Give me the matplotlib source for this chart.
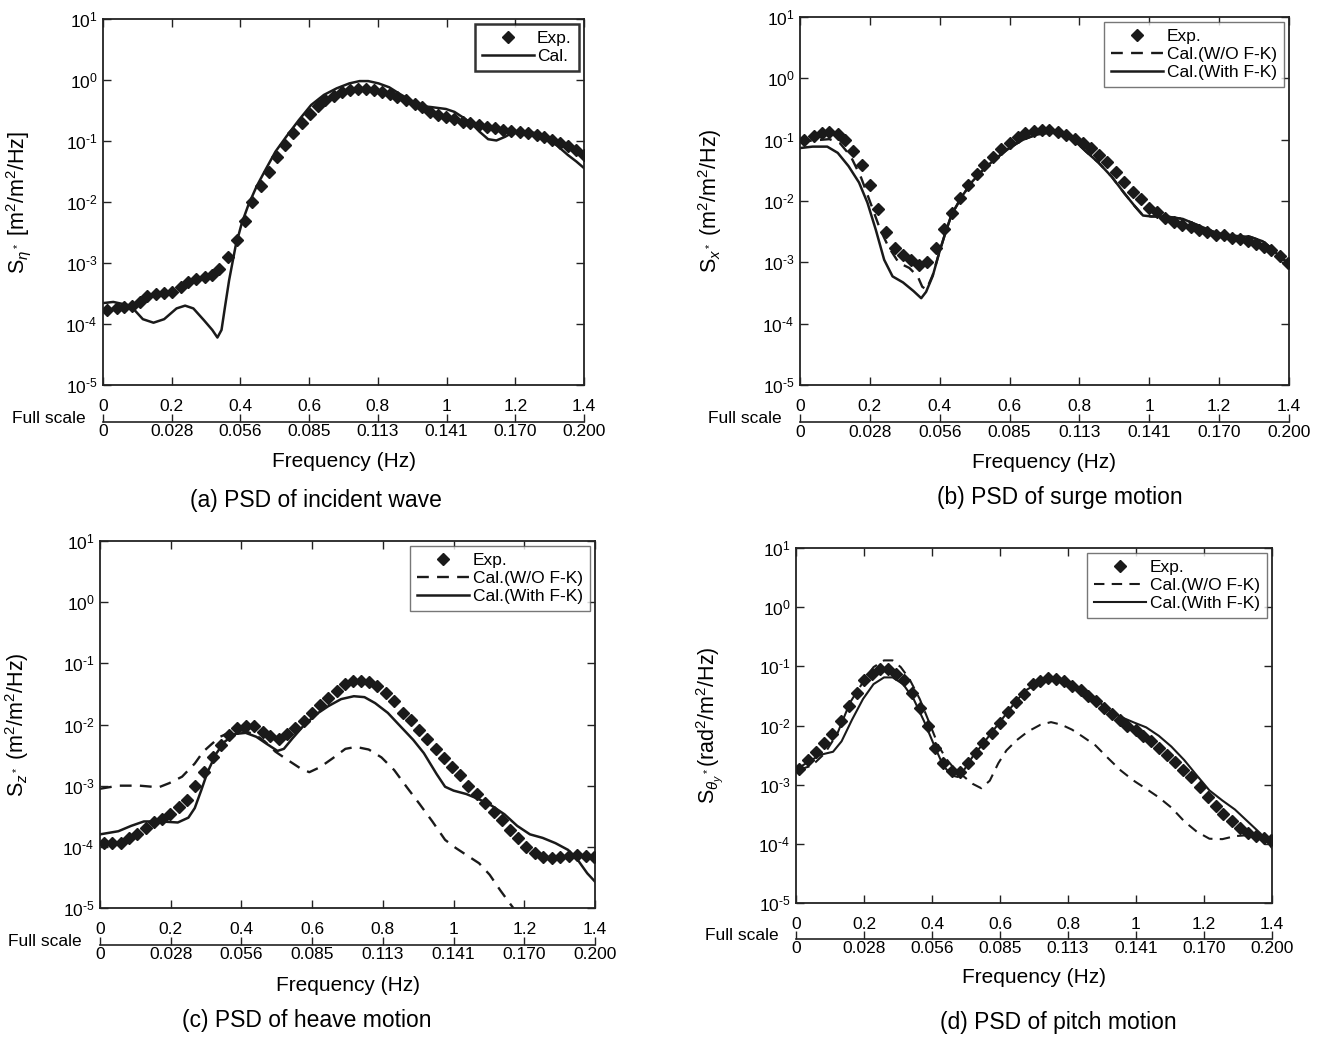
import matplotlib
matplotlib.use("Agg")
import matplotlib.pyplot as plt
import numpy as np

plt.rcParams['font.family'] = ['Liberation Sans', 'DejaVu Sans']
plt.rcParams['mathtext.fontset'] = 'custom'
plt.rcParams['mathtext.rm'] = 'Liberation Sans'
plt.rcParams['mathtext.it'] = 'Liberation Sans:italic'
plt.rcParams['mathtext.sf'] = 'Liberation Sans'

# ---------------- data ----------------
x_ticks = [0, 0.2, 0.4, 0.6, 0.8, 1.0, 1.2, 1.4]
x_ticklabels = ['0', '0.2', '0.4', '0.6', '0.8', '1', '1.2', '1.4']
full_scale_labels = ['0', '0.028', '0.056', '0.085', '0.113', '0.141', '0.170', '0.200']
y_ticks = [1e-5, 1e-4, 1e-3, 1e-2, 1e-1, 1e0, 1e1]
y_exponents = ['-5', '-4', '-3', '-2', '-1', '0', '1']

# (a) incident wave
a_exp_f = [0.012, 0.040, 0.061, 0.083, 0.108, 0.129, 0.153, 0.178, 0.202, 0.227, 0.247, 0.272,
           0.296, 0.318, 0.339, 0.365, 0.390, 0.413, 0.435, 0.459, 0.484, 0.506, 0.529, 0.554,
           0.578, 0.603, 0.625, 0.647, 0.671, 0.695, 0.719, 0.741, 0.766, 0.790, 0.812, 0.835,
           0.857, 0.882, 0.907, 0.928, 0.952, 0.976, 0.998, 1.023, 1.047, 1.069, 1.093, 1.117,
           1.142, 1.164, 1.188, 1.213, 1.237, 1.262, 1.284, 1.307, 1.329, 1.353, 1.376, 1.400]
a_exp_s = [1.7e-4, 1.8e-4, 1.9e-4, 2.0e-4, 2.3e-4, 2.9e-4, 3.1e-4, 3.2e-4, 3.3e-4, 4.0e-4, 4.8e-4, 5.5e-4,
           5.9e-4, 6.3e-4, 8.1e-4, 1.25e-3, 2.4e-3, 4.9e-3, 9.9e-3, 1.8e-2, 3.1e-2, 5.5e-2, 8.5e-2, 0.134,
           0.195, 0.28, 0.375, 0.47, 0.55, 0.64, 0.69, 0.70, 0.70, 0.69, 0.64, 0.59,
           0.53, 0.47, 0.41, 0.36, 0.30, 0.27, 0.244, 0.226, 0.207, 0.195, 0.183, 0.172,
           0.162, 0.152, 0.146, 0.139, 0.134, 0.126, 0.115, 0.105, 0.093, 0.082, 0.071, 0.059]
a_cal_f = [0.0, 0.030, 0.080, 0.116, 0.147, 0.178, 0.214, 0.239, 0.263, 0.294, 0.318, 0.333,
           0.345, 0.355, 0.367, 0.386, 0.404, 0.423, 0.447, 0.472, 0.502, 0.533, 0.570, 0.606,
           0.643, 0.680, 0.717, 0.747, 0.772, 0.802, 0.833, 0.864, 0.894, 0.925, 0.955, 0.998,
           1.023, 1.047, 1.072, 1.096, 1.121, 1.145, 1.170, 1.194, 1.231, 1.262, 1.292, 1.323,
           1.353, 1.378, 1.400]
a_cal_s = [2.2e-4, 2.3e-4, 2.0e-4, 1.2e-4, 1.05e-4, 1.2e-4, 1.8e-4, 2.0e-4, 1.8e-4, 1.15e-4, 8e-5, 6e-5,
           8e-5, 1.9e-4, 5.2e-4, 1.9e-3, 4.5e-3, 8.9e-3, 1.8e-2, 3.3e-2, 6.7e-2, 0.117, 0.22, 0.39,
           0.57, 0.73, 0.88, 0.96, 0.96, 0.88, 0.76, 0.59, 0.47, 0.375, 0.36, 0.335,
           0.30, 0.245, 0.195, 0.142, 0.107, 0.102, 0.117, 0.139, 0.142, 0.134, 0.11, 0.083,
           0.059, 0.046, 0.036]

# (b) surge
b_exp_f = [0.012, 0.039, 0.063, 0.084, 0.108, 0.129, 0.153, 0.177, 0.201, 0.223, 0.247, 0.271,
           0.295, 0.319, 0.341, 0.364, 0.389, 0.412, 0.434, 0.458, 0.482, 0.506, 0.528, 0.552,
           0.576, 0.600, 0.623, 0.645, 0.669, 0.693, 0.714, 0.739, 0.761, 0.786, 0.810, 0.834,
           0.855, 0.880, 0.904, 0.928, 0.952, 0.976, 0.998, 1.022, 1.046, 1.070, 1.094, 1.118,
           1.142, 1.166, 1.190, 1.214, 1.237, 1.259, 1.283, 1.305, 1.328, 1.349, 1.373, 1.398]
b_exp_s = [0.10, 0.113, 0.13, 0.135, 0.124, 0.099, 0.066, 0.038, 0.018, 7.5e-3, 3.1e-3, 1.7e-3,
           1.33e-3, 1.1e-3, 9.1e-4, 1.03e-3, 1.7e-3, 3.5e-3, 6.4e-3, 0.011, 0.0185, 0.028, 0.039, 0.053,
           0.070, 0.088, 0.11, 0.128, 0.14, 0.144, 0.144, 0.133, 0.117, 0.103, 0.088, 0.073,
           0.057, 0.043, 0.030, 0.0203, 0.014, 0.0106, 7.6e-3, 6.6e-3, 5.3e-3, 4.6e-3, 4.1e-3, 3.7e-3,
           3.4e-3, 3.1e-3, 2.8e-3, 2.75e-3, 2.5e-3, 2.4e-3, 2.2e-3, 2.0e-3, 1.8e-3, 1.57e-3, 1.25e-3, 9.8e-4]
b_wo_f = [0.0, 0.036, 0.084, 0.114, 0.145, 0.175, 0.205, 0.229, 0.253, 0.283, 0.313, 0.337,
          0.350, 0.362, 0.380, 0.398, 0.416, 0.434, 0.464, 0.494, 0.530, 0.566, 0.602, 0.639,
          0.675, 0.711, 0.747, 0.783, 0.819, 0.855, 0.892, 0.928, 0.958, 0.982, 1.006, 1.048,
          1.096, 1.145, 1.193, 1.241, 1.289, 1.325, 1.349, 1.373, 1.398]
b_wo_s = [0.092, 0.097, 0.102, 0.088, 0.054, 0.024, 8.3e-3, 3.5e-3, 1.8e-3, 9.8e-4, 8.1e-4, 5.9e-4,
          4.0e-4, 3.6e-4, 6.2e-4, 1.4e-3, 3.0e-3, 6.0e-3, 0.012, 0.021, 0.035, 0.052, 0.075, 0.10,
          0.12, 0.13, 0.128, 0.10, 0.064, 0.042, 0.025, 0.0135, 8.3e-3, 5.8e-3, 5.6e-3, 5.6e-3,
          5.1e-3, 3.9e-3, 3.0e-3, 2.7e-3, 2.6e-3, 2.2e-3, 1.7e-3, 1.25e-3, 9.7e-4]
b_with_f = [0.0, 0.036, 0.078, 0.108, 0.139, 0.169, 0.193, 0.217, 0.241, 0.265, 0.295, 0.325,
            0.347, 0.361, 0.380, 0.398, 0.416, 0.434, 0.464, 0.494, 0.530, 0.566, 0.602, 0.639,
            0.675, 0.711, 0.747, 0.783, 0.819, 0.855, 0.892, 0.928, 0.958, 0.982, 1.006, 1.048,
            1.096, 1.145, 1.193, 1.241, 1.289, 1.325, 1.349, 1.373, 1.398]
b_with_s = [0.073, 0.077, 0.077, 0.061, 0.037, 0.020, 9.4e-3, 3.4e-3, 1.1e-3, 5.9e-4, 4.7e-4, 3.4e-4,
            2.6e-4, 3.3e-4, 6e-4, 1.4e-3, 3.0e-3, 6.0e-3, 0.012, 0.021, 0.035, 0.052, 0.075, 0.10,
            0.12, 0.13, 0.128, 0.10, 0.064, 0.042, 0.025, 0.0135, 8.3e-3, 5.8e-3, 5.6e-3, 5.6e-3,
            5.1e-3, 3.9e-3, 3.0e-3, 2.7e-3, 2.6e-3, 2.2e-3, 1.7e-3, 1.25e-3, 9.7e-4]

# (c) heave
c_exp_f = [0.010, 0.034, 0.058, 0.082, 0.106, 0.130, 0.154, 0.175, 0.199, 0.223, 0.247, 0.270,
           0.295, 0.319, 0.341, 0.364, 0.388, 0.412, 0.436, 0.460, 0.481, 0.505, 0.528, 0.552,
           0.576, 0.600, 0.622, 0.646, 0.670, 0.694, 0.715, 0.738, 0.762, 0.784, 0.808, 0.832,
           0.856, 0.880, 0.902, 0.926, 0.950, 0.974, 0.996, 1.019, 1.042, 1.066, 1.090, 1.114,
           1.136, 1.160, 1.182, 1.206, 1.230, 1.254, 1.278, 1.302, 1.326, 1.350, 1.374, 1.398]
c_exp_s = [1.15e-4, 1.15e-4, 1.15e-4, 1.38e-4, 1.63e-4, 2.0e-4, 2.5e-4, 2.8e-4, 3.4e-4, 4.4e-4, 5.8e-4, 1.0e-3,
           1.7e-3, 2.9e-3, 4.7e-3, 6.7e-3, 8.9e-3, 9.5e-3, 9.3e-3, 7.6e-3, 6.4e-3, 5.9e-3, 6.9e-3, 8.7e-3,
           0.0112, 0.0155, 0.0206, 0.027, 0.035, 0.0455, 0.052, 0.052, 0.050, 0.043, 0.033, 0.024,
           0.0155, 0.012, 8.2e-3, 5.9e-3, 4.0e-3, 2.8e-3, 2.0e-3, 1.47e-3, 1.0e-3, 7.3e-4, 5.3e-4, 3.7e-4,
           2.7e-4, 1.9e-4, 1.4e-4, 1.0e-4, 8.0e-5, 6.7e-5, 6.5e-5, 6.8e-5, 7.1e-5, 7.4e-5, 7.1e-5, 6.8e-5]
c_wo_f = [0.0, 0.052, 0.112, 0.166, 0.196, 0.232, 0.268, 0.292, 0.316, 0.340, 0.370, 0.400,
          0.436, 0.466, 0.496, 0.532, 0.568, 0.592, 0.622, 0.658, 0.694, 0.724, 0.760, 0.796,
          0.832, 0.868, 0.904, 0.940, 0.976, 1.006, 1.042, 1.072, 1.102, 1.132, 1.156, 1.170]
c_wo_s = [8.9e-4, 1.0e-3, 1.0e-3, 9.4e-4, 1.1e-3, 1.4e-3, 2.3e-3, 3.6e-3, 4.8e-3, 6.3e-3, 7.6e-3, 8.0e-3,
          7.0e-3, 5.3e-3, 3.6e-3, 2.6e-3, 1.9e-3, 1.66e-3, 2.0e-3, 2.8e-3, 4.0e-3, 4.3e-3, 3.9e-3, 2.9e-3,
          1.8e-3, 9.4e-4, 5.0e-4, 2.6e-4, 1.3e-4, 9.6e-5, 7.0e-5, 5.4e-5, 3.5e-5, 1.95e-5, 1.26e-5, 9.8e-6]
c_with_f = [0.0, 0.052, 0.088, 0.124, 0.172, 0.220, 0.250, 0.268, 0.286, 0.304, 0.328, 0.352,
            0.382, 0.412, 0.442, 0.472, 0.502, 0.520, 0.544, 0.574, 0.610, 0.646, 0.682, 0.718,
            0.748, 0.778, 0.814, 0.850, 0.886, 0.916, 0.952, 0.976, 1.000, 1.036, 1.072, 1.108,
            1.144, 1.180, 1.216, 1.252, 1.288, 1.324, 1.354, 1.378, 1.400]
c_with_s = [1.6e-4, 1.8e-4, 2.2e-4, 2.6e-4, 2.6e-4, 2.5e-4, 3.0e-4, 4.3e-4, 8.3e-4, 1.66e-3, 3.3e-3, 5.2e-3,
            7.0e-3, 7.3e-3, 6.3e-3, 4.8e-3, 3.7e-3, 4.0e-3, 5.9e-3, 9.3e-3, 0.0145, 0.020, 0.026, 0.029,
            0.028, 0.0224, 0.0155, 9.3e-3, 5.6e-3, 3.4e-3, 1.55e-3, 9.6e-4, 8.3e-4, 7.3e-4, 6.0e-4, 4.7e-4,
            3.4e-4, 2.2e-4, 1.6e-4, 1.4e-4, 1.15e-4, 8.9e-5, 5.8e-5, 3.7e-5, 2.7e-5]

# (d) pitch
d_exp_f = [0.010, 0.035, 0.060, 0.082, 0.107, 0.132, 0.155, 0.178, 0.200, 0.224, 0.246, 0.271,
           0.294, 0.317, 0.340, 0.364, 0.387, 0.410, 0.433, 0.458, 0.483, 0.505, 0.530, 0.551,
           0.576, 0.601, 0.623, 0.647, 0.672, 0.697, 0.719, 0.741, 0.766, 0.787, 0.812, 0.837,
           0.860, 0.883, 0.905, 0.928, 0.953, 0.974, 0.999, 1.021, 1.045, 1.067, 1.092, 1.114,
           1.139, 1.163, 1.188, 1.213, 1.235, 1.257, 1.281, 1.306, 1.328, 1.353, 1.376, 1.398]
d_exp_s = [1.86e-3, 2.6e-3, 3.6e-3, 5.0e-3, 7.1e-3, 0.0117, 0.0213, 0.036, 0.058, 0.075, 0.089, 0.089,
           0.075, 0.058, 0.036, 0.020, 9.7e-3, 4.1e-3, 2.3e-3, 1.7e-3, 1.64e-3, 2.3e-3, 3.4e-3, 5.0e-3,
           7.4e-3, 0.011, 0.017, 0.0245, 0.034, 0.050, 0.057, 0.063, 0.061, 0.057, 0.047, 0.040,
           0.032, 0.026, 0.020, 0.0158, 0.0126, 0.010, 8.3e-3, 6.7e-3, 5.4e-3, 4.1e-3, 3.2e-3, 2.4e-3,
           1.8e-3, 1.35e-3, 9.3e-4, 6.3e-4, 4.4e-4, 3.2e-4, 2.4e-4, 1.85e-4, 1.5e-4, 1.34e-4, 1.26e-4, 1.17e-4]
d_wo_f = [0.010, 0.047, 0.085, 0.122, 0.159, 0.197, 0.228, 0.259, 0.284, 0.308, 0.333, 0.364,
          0.396, 0.420, 0.445, 0.470, 0.495, 0.520, 0.545, 0.570, 0.595, 0.619, 0.650, 0.682,
          0.719, 0.750, 0.781, 0.812, 0.843, 0.881, 0.918, 0.955, 0.993, 1.030, 1.067, 1.104,
          1.142, 1.179, 1.216, 1.254, 1.291, 1.328, 1.366, 1.400]
d_wo_s = [1.8e-3, 2.1e-3, 3.4e-3, 7.4e-3, 0.0245, 0.054, 0.097, 0.126, 0.126, 0.097, 0.062, 0.028,
          9.8e-3, 4.4e-3, 2.6e-3, 1.74e-3, 1.35e-3, 1.03e-3, 8.7e-4, 1.17e-3, 2.3e-3, 3.8e-3, 5.7e-3, 7.9e-3,
          0.0103, 0.0114, 0.0103, 8.5e-3, 6.5e-3, 4.6e-3, 2.8e-3, 1.74e-3, 1.17e-3, 8.5e-4, 6.1e-4, 4.1e-4,
          2.4e-4, 1.6e-4, 1.22e-4, 1.2e-4, 1.35e-4, 1.4e-4, 1.2e-4, 9.6e-5]
d_with_f = [0.0, 0.035, 0.072, 0.109, 0.134, 0.165, 0.197, 0.228, 0.259, 0.284, 0.315, 0.346,
            0.377, 0.408, 0.433, 0.458, 0.476, 0.495, 0.520, 0.551, 0.582, 0.613, 0.644, 0.675,
            0.706, 0.738, 0.769, 0.800, 0.831, 0.862, 0.893, 0.924, 0.955, 0.993, 1.030, 1.067,
            1.104, 1.142, 1.179, 1.216, 1.254, 1.291, 1.328, 1.366, 1.400]
d_with_s = [1.8e-3, 2.4e-3, 3.2e-3, 3.6e-3, 5.4e-3, 0.0126, 0.028, 0.050, 0.065, 0.065, 0.050, 0.028,
            0.0117, 4.4e-3, 2.1e-3, 1.43e-3, 1.35e-3, 1.8e-3, 3.0e-3, 5.0e-3, 8.5e-3, 0.0144, 0.0245, 0.039,
            0.050, 0.061, 0.062, 0.054, 0.044, 0.034, 0.0245, 0.0174, 0.014, 0.0113, 9.3e-3, 6.7e-3,
            4.4e-3, 2.6e-3, 1.43e-3, 8.0e-4, 5.4e-4, 3.8e-4, 2.4e-4, 1.5e-4, 8.5e-5]

# ---------------- figure ----------------
W, H = 1322, 1040
fig = plt.figure(figsize=(W / 100, H / 100), dpi=100)


def px_axes(x0, x1, y0, y1):
    return fig.add_axes([x0 / W, 1 - y1 / H, (x1 - x0) / W, (y1 - y0) / H])


TICK_FS = 12.5
SPINE_C = '#222222'
DASH = (5, 3.5)
y_ticklabels = [r'10$^{\text{%s}}$' % e for e in y_exponents]


def style_axes(ax, ylabel, ylabel_x):
    ax.set_yscale('log')
    ax.set_ylim(1e-5, 1e1)
    ax.set_xlim(0, 1.4)
    ax.set_yticks(y_ticks)
    ax.set_yticklabels(y_ticklabels)
    ax.yaxis.set_minor_locator(matplotlib.ticker.NullLocator())
    ax.set_xticks(x_ticks)
    ax.set_xticklabels(x_ticklabels)
    ax.tick_params(axis='both', which='major', direction='in', length=6, width=1.0,
                   top=True, right=True, labelsize=TICK_FS, color=SPINE_C)
    ax.tick_params(axis='x', pad=10)
    ax.tick_params(axis='y', pad=4)
    for sp in ax.spines.values():
        sp.set_color(SPINE_C)
        sp.set_linewidth(1.3)
    ax.set_ylabel(ylabel, fontsize=15.5)
    ax.yaxis.set_label_coords(ylabel_x, 0.5)
    # full-scale axis
    sec = ax.secondary_xaxis(location=-0.10)
    sec.set_xticks(x_ticks)
    sec.set_xticklabels(full_scale_labels)
    sec.tick_params(direction='in', length=6, width=1.0, labelsize=TICK_FS, pad=2, color=SPINE_C)
    sec.spines['bottom'].set_linewidth(1.2)
    sec.spines['bottom'].set_color(SPINE_C)
    ax.text(-0.037, -0.092, 'Full scale', transform=ax.transAxes, ha='right', va='center',
            fontsize=TICK_FS)
    ax.text(0.5, -0.21, 'Frequency (Hz)', transform=ax.transAxes, ha='center', va='center',
            fontsize=15)


def add_legend(ax, edge_lw, edge_c):
    leg = ax.legend(loc='upper right', fontsize=12.5, frameon=True, fancybox=False,
                    edgecolor=edge_c, borderaxespad=0.3, handlelength=3.0,
                    labelspacing=0.15, borderpad=0.4, handletextpad=0.2, markerfirst=True)
    leg.get_frame().set_linewidth(edge_lw)
    return leg


MS = 6.5

# (a)
ax_a = px_axes(103, 584, 19, 385)
ax_a.plot(a_exp_f, a_exp_s, 'D', color='#1a1a1a', ms=MS, label='Exp.', zorder=3)
ax_a.plot(a_cal_f, a_cal_s, '-', color='#1a1a1a', lw=1.8, label='Cal.', zorder=2)
style_axes(ax_a, r'S$_{\eta^*}$ [m$^2$/m$^2$/Hz]', -0.145)
add_legend(ax_a, 1.8, 'black')

# (b)
ax_b = px_axes(800, 1289, 17, 385)
ax_b.plot(b_exp_f, b_exp_s, 'D', color='#1a1a1a', ms=MS, label='Exp.', zorder=3)
ax_b.plot(b_wo_f, b_wo_s, '--', dashes=DASH, color='#1a1a1a', lw=1.7, label='Cal.(W/O F-K)', zorder=2)
ax_b.plot(b_with_f, b_with_s, '-', color='#1a1a1a', lw=1.8, label='Cal.(With F-K)', zorder=2)
style_axes(ax_b, r'S$_{x^*}$ (m$^2$/m$^2$/Hz)', -0.155)
add_legend(ax_b, 1.0, '#555555')

# (c)
ax_c = px_axes(100, 595, 541, 908)
ax_c.plot(c_exp_f, c_exp_s, 'D', color='#1a1a1a', ms=MS, label='Exp.', zorder=3)
ax_c.plot(c_wo_f, c_wo_s, '--', dashes=DASH, color='#1a1a1a', lw=1.7, label='Cal.(W/O F-K)', zorder=2)
ax_c.plot(c_with_f, c_with_s, '-', color='#1a1a1a', lw=1.8, label='Cal.(With F-K)', zorder=2)
style_axes(ax_c, r'S$_{z^*}$ (m$^2$/m$^2$/Hz)', -0.14)
add_legend(ax_c, 1.0, '#555555')

# (d)
ax_d = px_axes(796, 1272, 548, 903)
ax_d.plot(d_exp_f, d_exp_s, 'D', color='#1a1a1a', ms=MS, label='Exp.', zorder=3)
ax_d.plot(d_wo_f, d_wo_s, '--', dashes=DASH, color='#1a1a1a', lw=1.5, label='Cal.(W/O F-K)', zorder=2)
ax_d.plot(d_with_f, d_with_s, '-', color='#1a1a1a', lw=1.5, label='Cal.(With F-K)', zorder=2)
style_axes(ax_d, r'S$_{\theta_y{}^*}$(rad$^2$/m$^2$/Hz)', -0.15)
add_legend(ax_d, 1.0, '#555555')

# captions
fig.text(316 / W, 1 - 500 / H, '(a) PSD of incident wave', ha='center', va='center', fontsize=16.5)
fig.text(1060 / W, 1 - 497 / H, '(b) PSD of surge motion', ha='center', va='center', fontsize=16.5)
fig.text(307 / W, 1 - 1020 / H, '(c) PSD of heave motion', ha='center', va='center', fontsize=16.5)
fig.text(1058 / W, 1 - 1022 / H, '(d) PSD of pitch motion', ha='center', va='center', fontsize=16.5)

fig.savefig('out.png', dpi=100)
